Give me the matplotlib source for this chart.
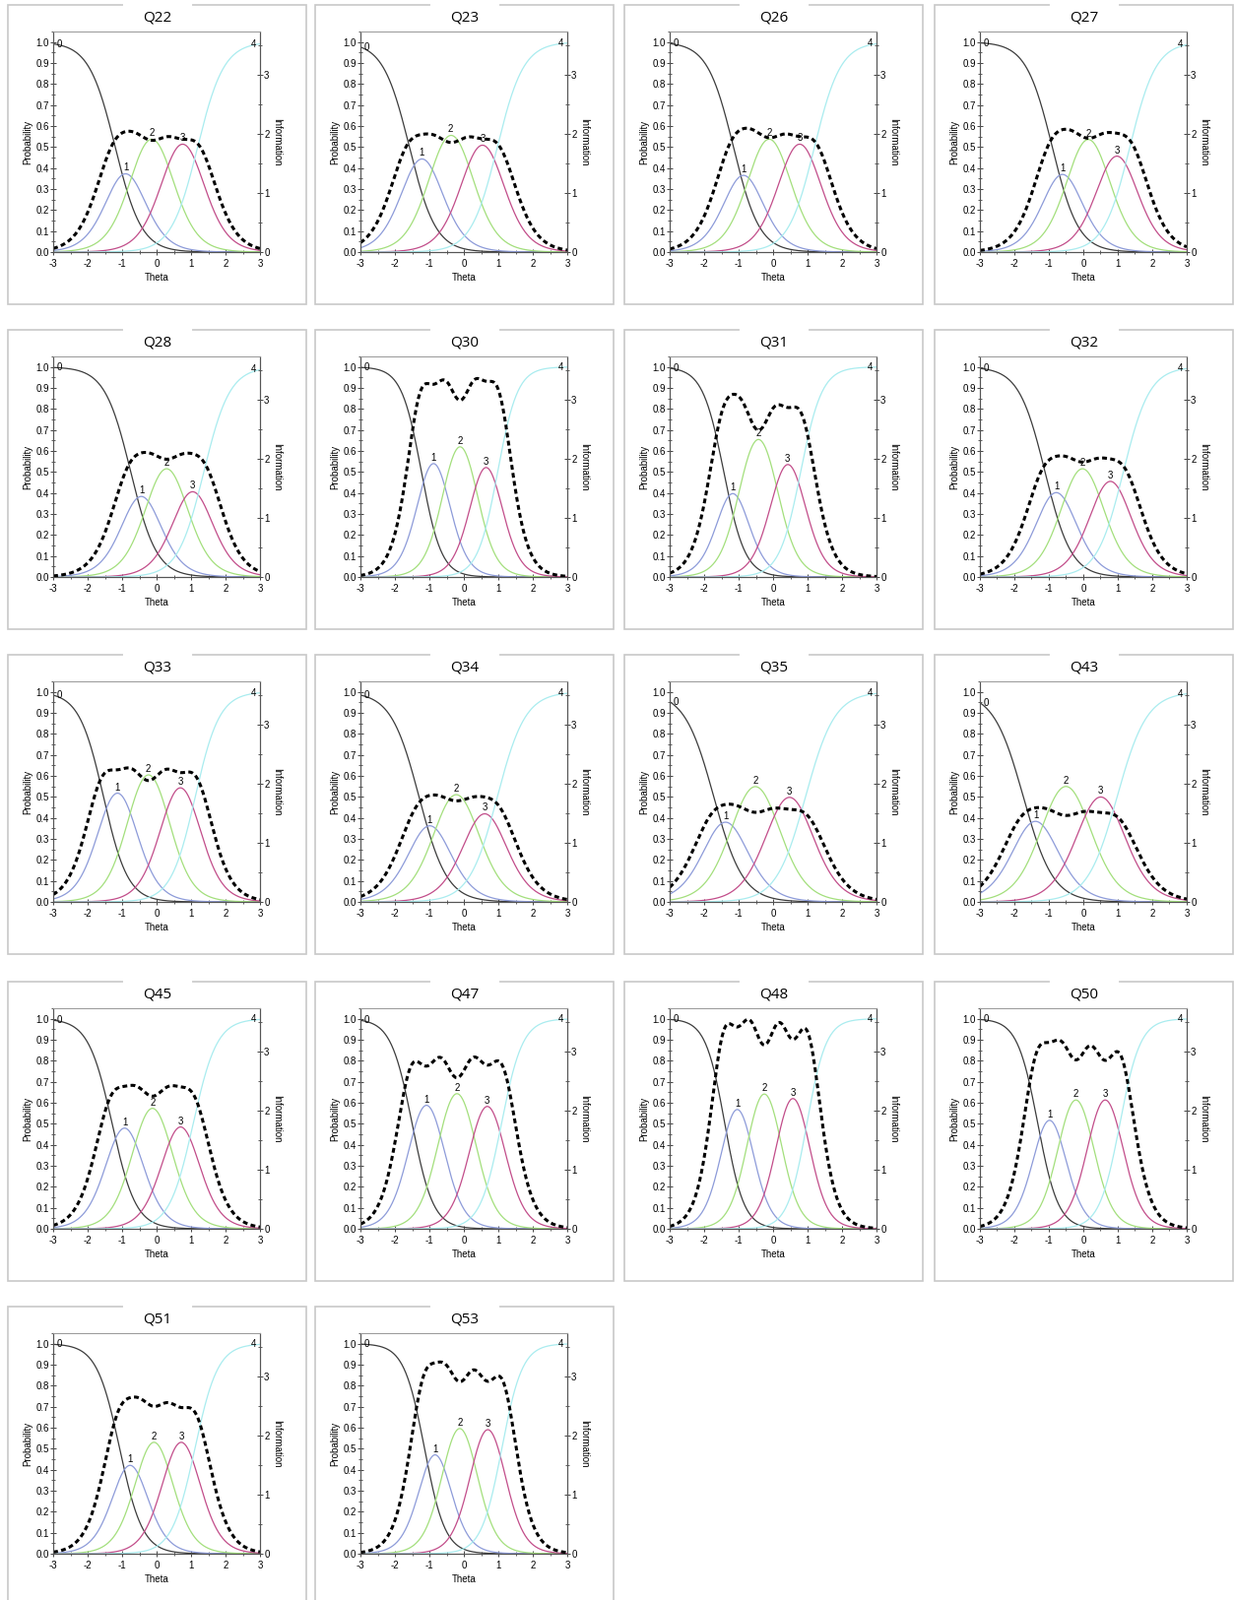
import numpy as np
import matplotlib
matplotlib.use('Agg')
from matplotlib import pyplot as plt
from matplotlib.patches import Rectangle
from matplotlib.lines import Line2D
from matplotlib.ticker import MultipleLocator, FormatStrFormatter

plt.rcParams['font.family'] = ['Liberation Sans', 'DejaVu Sans']
plt.rcParams['axes.unicode_minus'] = False

# graded response model parameters
items = ['Q22', 'Q23', 'Q26', 'Q27', 'Q28', 'Q30', 'Q31', 'Q32', 'Q33',
         'Q34', 'Q35', 'Q43', 'Q45', 'Q47', 'Q48', 'Q50', 'Q51', 'Q53']
slope = [2.61, 2.61, 2.64, 2.63, 2.65, 3.45, 3.23, 2.62, 2.83,
         2.45, 2.35, 2.31, 2.90, 3.25, 3.58, 3.36, 2.99, 3.35]
threshold_1 = [-1.20, -1.58, -1.15, -0.90, -0.75, -1.23, -1.43, -1.11, -1.54,
               -1.30, -1.72, -1.74, -1.29, -1.50, -1.40, -1.32, -1.07, -1.14]
threshold_2 = [-0.60, -0.85, -0.57, -0.31, -0.14, -0.53, -0.91, -0.46, -0.73,
               -0.68, -1.04, -1.04, -0.57, -0.67, -0.68, -0.64, -0.47, -0.53]
threshold_3 = [0.32, 0.11, 0.34, 0.60, 0.72, 0.31, 0.06, 0.41, 0.26,
               0.24, 0.01, 0.03, 0.33, 0.27, 0.17, 0.21, 0.32, 0.29]
threshold_4 = [1.19, 0.97, 1.20, 1.35, 1.37, 0.98, 0.80, 1.16, 1.12,
               0.97, 0.94, 0.98, 1.06, 1.09, 0.98, 1.06, 1.11, 1.10]

cat_colors = ['#3c3c3c', '#8d9bd9', '#a3df7c', '#c24d8a', '#a9ecef']

W, H = 1253, 1625
col_left = [8, 320, 634, 949]
row_top = [5, 335, 665, 997, 1327]
box_w, box_h = 303, 304

theta = np.linspace(-3, 3, 301)


def grm(a, bs):
    stars = [np.ones_like(theta)]
    for b in bs:
        stars.append(1 / (1 + np.exp(-a * (theta - b))))
    stars.append(np.zeros_like(theta))
    probs = []
    info = np.zeros_like(theta)
    for k in range(5):
        p = stars[k] - stars[k + 1]
        dp = a * (stars[k] * (1 - stars[k]) - stars[k + 1] * (1 - stars[k + 1]))
        probs.append(p)
        info += dp ** 2 / np.maximum(p, 1e-12)
    return probs, info


fig = plt.figure(figsize=(W / 100, H / 100), dpi=100)

for i, name in enumerate(items):
    r, c = divmod(i, 4)
    bl, bt = col_left[c], row_top[r]

    # grey frame with the title breaking the top edge
    fig.add_artist(Rectangle((bl / W, 1 - (bt + box_h) / H), box_w / W, box_h / H,
                             transform=fig.transFigure, fill=False,
                             edgecolor='#c8c8c8', lw=1.2))
    cx = bl + box_w / 2
    fig.add_artist(Line2D([(cx - 33) / W, (cx + 33) / W], [1 - bt / H, 1 - bt / H],
                          transform=fig.transFigure, color='white', lw=3))
    fig.text(cx / W, 1 - (bt + 13) / H, name, ha='center', va='center',
             fontsize=11, family='Open Sans')

    ax = fig.add_axes([(bl + 46) / W, 1 - (bt + 251) / H, 210 / W, 224 / H])
    ax2 = ax.twinx()

    probs, info = grm(slope[i], [threshold_1[i], threshold_2[i],
                                 threshold_3[i], threshold_4[i]])
    for k in range(5):
        ax.plot(theta, probs[k], color=cat_colors[k], lw=0.9)
    ax2.plot(theta, info, color='black', lw=2.2, linestyle=(0, (1.6, 1.1)))

    # category labels
    ax.text(-2.82, probs[0][0], '0', fontsize=7, ha='center', va='center')
    ax.text(2.82, probs[4][-1], '4', fontsize=7, ha='center', va='center')
    for k in (1, 2, 3):
        j = np.argmax(probs[k])
        ax.text(theta[j], probs[k][j] + 0.005, str(k), fontsize=7,
                ha='center', va='bottom')

    ax.set_xlim(-3, 3)
    ax.set_ylim(0, 1.05)
    ax2.set_ylim(0, 1.05 / 0.2817)

    ax.xaxis.set_major_locator(MultipleLocator(1))
    ax.xaxis.set_minor_locator(MultipleLocator(0.5))
    ax.yaxis.set_major_locator(MultipleLocator(0.1))
    ax.yaxis.set_minor_locator(MultipleLocator(0.05))
    ax.yaxis.set_major_formatter(FormatStrFormatter('%.1f'))
    ax2.yaxis.set_major_locator(MultipleLocator(1))
    ax2.yaxis.set_minor_locator(MultipleLocator(0.5))
    ax2.set_yticks([0, 1, 2, 3])

    for a_ in (ax, ax2):
        a_.tick_params(which='major', direction='inout', length=4, width=0.7,
                       labelsize=7, colors='#444444', labelcolor='black', pad=1)
        a_.tick_params(which='minor', direction='inout', length=3, width=0.6,
                       colors='#444444')
        for side in ('left', 'bottom', 'right'):
            a_.spines[side].set_color('#555555')
            a_.spines[side].set_linewidth(0.8)
        a_.spines['top'].set_color('#9a9a9a')
        a_.spines['top'].set_linewidth(0.7)
    ax.tick_params(axis='x', pad=3)

    ax.set_xlabel('Theta', fontsize=7, labelpad=3)
    ax.set_ylabel('Probability', fontsize=7, labelpad=2)
    ax2.set_ylabel('Information', fontsize=7, rotation=270, labelpad=9)

fig.savefig('out.png', dpi=100, facecolor='white')
